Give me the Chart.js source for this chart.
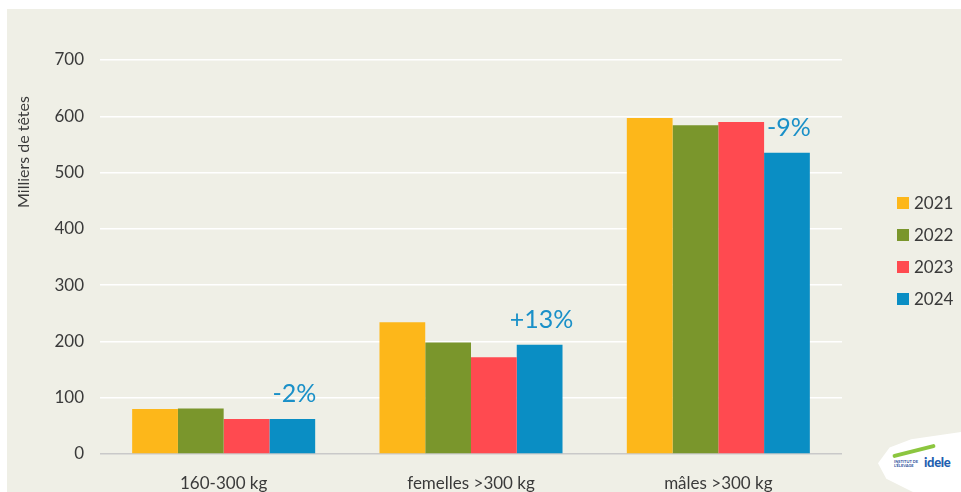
<!DOCTYPE html>
<html>
<head>
<meta charset="utf-8">
<script src="https://cdn.jsdelivr.net/npm/chart.js@4"></script>
<style>
  html, body { margin: 0; padding: 0; background: #fff; }
  body { width: 961px; height: 492px; position: relative; overflow: hidden; font-family: Lato, sans-serif; }
  #panel { position: absolute; left: 7px; top: 9px; width: 954px; height: 483px; background: #efefe6; }
  #logo { position: absolute; left: 878px; top: 432px; width: 83px; height: 60px; background: #fff;
          clip-path: polygon(0% 52%, 14% 26%, 40% 12%, 100% 0%, 100% 100%, 42% 100%, 10% 78%); }
  #logo .small { position: absolute; left: 16px; top: 28px; font-size: 4px; line-height: 4px; color: #2b4f9c; font-weight: bold; }
  #logo .brand { position: absolute; left: 46px; top: 22px; font-size: 13px; font-weight: 900; color: #1f5fb0; letter-spacing: -0.3px; }
  #logo .swoosh { position: absolute; left: 14px; top: 17px; width: 44px; height: 4px; background: #8cc63f; border-radius: 3px; transform: rotate(-14deg); }
</style>
</head>
<body>
<div id="panel"><canvas id="chart"></canvas></div>
<div id="logo"><div class="swoosh"></div><div class="small">INSTITUT DE<br>L'ÉLEVAGE</div><div class="brand">idele</div></div>
<script>
// Categories and series (milliers de têtes)
const categories = ['160-300 kg', 'femelles >300 kg', 'mâles >300 kg'];
const years = ['2021', '2022', '2023', '2024'];
const values2021 = [80, 234, 597];
const values2022 = [81, 198, 584];
const values2023 = [62, 172, 590];
const values2024 = [62, 194, 535];
const changes = ['-2%', '+13%', '-9%'];
const yTicks = [0, 100, 200, 300, 400, 500, 600, 700];

const colors = ['#fdb71a', '#7a962c', '#ff4a50', '#0a8ec4'];
const textColor = '#3a3a3a';

// Extra labels: y title, % changes above 2024 bars, legend on the right
const extrasPlugin = {
    id: 'extras',
    afterDraw(chart) {
        const ctx = chart.ctx;
        const area = chart.chartArea;
        ctx.save();

        // y axis title, near top of axis
        ctx.translate(17, 143);
        ctx.rotate(-Math.PI / 2);
        ctx.font = '16px Lato';
        ctx.fillStyle = textColor;
        ctx.textAlign = 'center';
        ctx.textBaseline = 'middle';
        ctx.fillText('Milliers de têtes', 0, 0);
        ctx.restore();

        // change labels above the 2024 bars
        ctx.save();
        const meta = chart.getDatasetMeta(3);
        ctx.font = '25px Lato';
        ctx.fillStyle = '#1a90c8';
        ctx.textAlign = 'center';
        ctx.textBaseline = 'alphabetic';
        meta.data.forEach((bar, i) => {
            ctx.fillText(changes[i], bar.x + 2, bar.y - 17);
        });
        ctx.restore();

        // legend
        ctx.save();
        ctx.font = '17px Lato';
        ctx.textBaseline = 'middle';
        ctx.textAlign = 'left';
        const x0 = area.right + 55;
        const yMid = (area.top + area.bottom) / 2 - 6;
        const step = 32;
        chart.data.datasets.forEach((ds, i) => {
            const y = yMid + (i - 1.5) * step;
            ctx.fillStyle = ds.backgroundColor;
            ctx.fillRect(x0, y - 6, 12, 12);
            ctx.fillStyle = textColor;
            ctx.fillText(ds.label, x0 + 17, y + 1);
        });
        ctx.restore();
    }
};

const ctx = document.getElementById('chart').getContext('2d');
const chart = new Chart(ctx, {
    type: 'bar',
    data: {
        labels: categories,
        datasets: [
            { label: years[0], data: values2021, backgroundColor: colors[0] },
            { label: years[1], data: values2022, backgroundColor: colors[1] },
            { label: years[2], data: values2023, backgroundColor: colors[2] },
            { label: years[3], data: values2024, backgroundColor: colors[3] }
        ]
    },
    options: {
        responsive: true,
        maintainAspectRatio: false,
        animation: false,
        devicePixelRatio: 1,
        datasets: {
            bar: { barPercentage: 1.0, categoryPercentage: 0.74 }
        },
        layout: { padding: { top: 51, right: 119, bottom: 0, left: 0 } },
        scales: {
            x: {
                grid: { display: false },
                border: { display: false },
                ticks: { color: textColor, font: { family: 'Lato', size: 17 }, padding: 11 },
                afterFit: (scale) => { scale.height = 38; }
            },
            y: {
                min: 0,
                max: 700,
                afterBuildTicks: (scale) => { scale.ticks = yTicks.map(v => ({ value: v })); },
                grid: {
                    color: (c) => c.tick && c.tick.value === 0 ? '#c9c9c9' : '#ffffff',
                    lineWidth: 1.5,
                    drawTicks: false
                },
                border: { display: false },
                ticks: { color: textColor, font: { family: 'Lato', size: 17 }, padding: 16 },
                afterFit: (scale) => { scale.width = 93; }
            }
        },
        plugins: {
            legend: { display: false },
            tooltip: { enabled: false }
        }
    },
    plugins: [extrasPlugin]
});
</script>
</body>
</html>
